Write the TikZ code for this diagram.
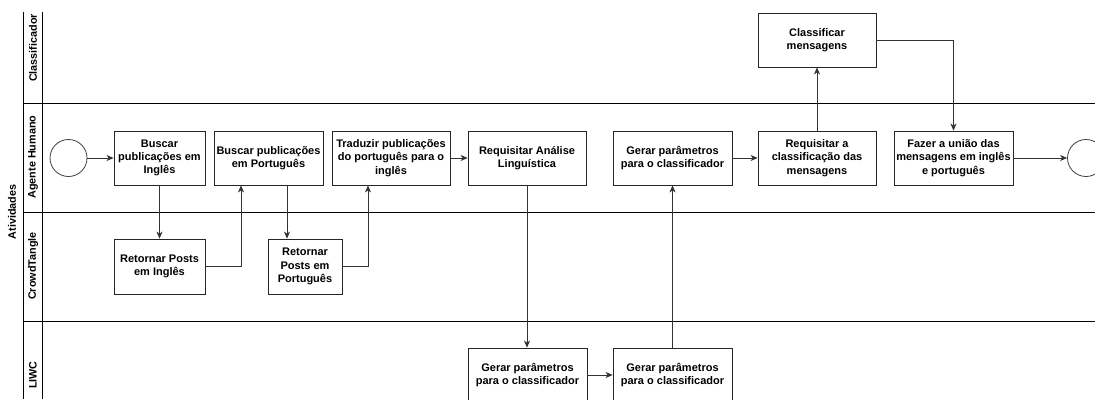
\documentclass[tikz,border=0pt]{standalone}
\usepackage{fontspec}
\setmainfont{Liberation Sans}
\usetikzlibrary{arrows.meta}
\begin{document}
\begin{tikzpicture}[x=1pt,y=-1pt,
  lane/.style={draw=black, line width=0.8pt},
  box/.style={draw=black!85, line width=0.8pt, align=center, inner sep=0pt,
    minimum height=54pt, font=\bfseries\fontsize{11}{13.2}\selectfont},
  evt/.style={draw=black!75, line width=0.8pt, circle, minimum size=37pt, inner sep=0pt},
  lanelabel/.style={rotate=90, font=\bfseries\fontsize{10.8}{13}\selectfont, inner sep=0pt},
  flow/.style={draw=black!80, line width=0.8pt, -{Stealth[length=7pt,width=6pt,inset=2pt]}},
  flowplain/.style={draw=black!80, line width=0.8pt}]
\useasboundingbox (0,0) rectangle (1095,399);
% pool and lanes
\draw[lane] (23.5,12) -- (23.5,399);
\draw[lane] (42,12) -- (42,399);
\draw[lane] (23.5,103) -- (1095,103);
\draw[lane] (23.5,212) -- (1095,212);
\draw[lane] (23.5,321.5) -- (1095,321.5);
\node[lanelabel] (pool) at (12,212) {Atividades};
\node[lanelabel] (lc) at (33,48) {Classificador};
\node[lanelabel] (lh) at (33,157) {Agente Humano};
\node[lanelabel] (lt) at (33,266) {CrowdTangle};
\node[lanelabel] (ll) at (33,375) {LIWC};
% events
\node[evt] (start) at (68.5,158) {};
\node[evt] (end) at (1086,158) {};
% tasks
\node[box, minimum width=91pt] (b1) at (159.5,158) {Buscar\\publicações em\\Inglês};
\node[box, minimum width=109pt] (b2) at (268.5,158) {Buscar publicações\\em Português};
\node[box, minimum width=118pt] (b3) at (391,158) {Traduzir publicações\\do português para o\\inglês};
\node[box, minimum width=118pt] (b4) at (527,158) {Requisitar Análise\\Linguística};
\node[box, minimum width=119pt] (b5) at (672.5,158) {Gerar parâmetros\\para o classificador};
\node[box, minimum width=118pt] (b6) at (817,158) {Requisitar a\\classificação das\\mensagens};
\node[box, minimum width=119pt] (b7) at (953.5,158) {Fazer a união das\\mensagens em inglês\\e português};
\node[box, minimum width=118pt] (c1) at (817,40) {Classificar\\mensagens};
\node[box, minimum width=91pt, minimum height=55pt] (r1) at (159.5,266.5) {Retornar Posts\\em Inglês};
\node[box, minimum width=74pt, minimum height=55pt] (r2) at (305,266.5) {Retornar\\Posts em\\Português};
\node[box, minimum width=119pt] (l1) at (527.5,375) {Gerar parâmetros\\para o classificador};
\node[box, minimum width=119pt] (l2) at (672.5,375) {Gerar parâmetros\\para o classificador};
% flows
\draw[flow] (start) -- (b1);
\draw[flow] (b1.south) -- (r1.north);
\draw[flow] (r1.east) -| ([xshift=-27.5pt]b2.south);
\draw[flow] ([xshift=18.5pt]b2.south) -- ([xshift=18.5pt]b2.south |- r2.north);
\draw[flow] (r2.east) -| ([xshift=-23pt]b3.south);
\draw[flow] (b3) -- (b4);
\draw[flow] (b4.south) -- (b4.south |- l1.north);
\draw[flow] (l1) -- (l2);
\draw[flow] (l2.north) -- (l2.north |- b5.south);
\draw[flow] (b5) -- (b6);
\draw[flow] (b6) -- (c1);
\draw[flow] (c1.east) -| (b7.north);
\draw[flow] (b7) -- (end);
\end{tikzpicture}
\end{document}
